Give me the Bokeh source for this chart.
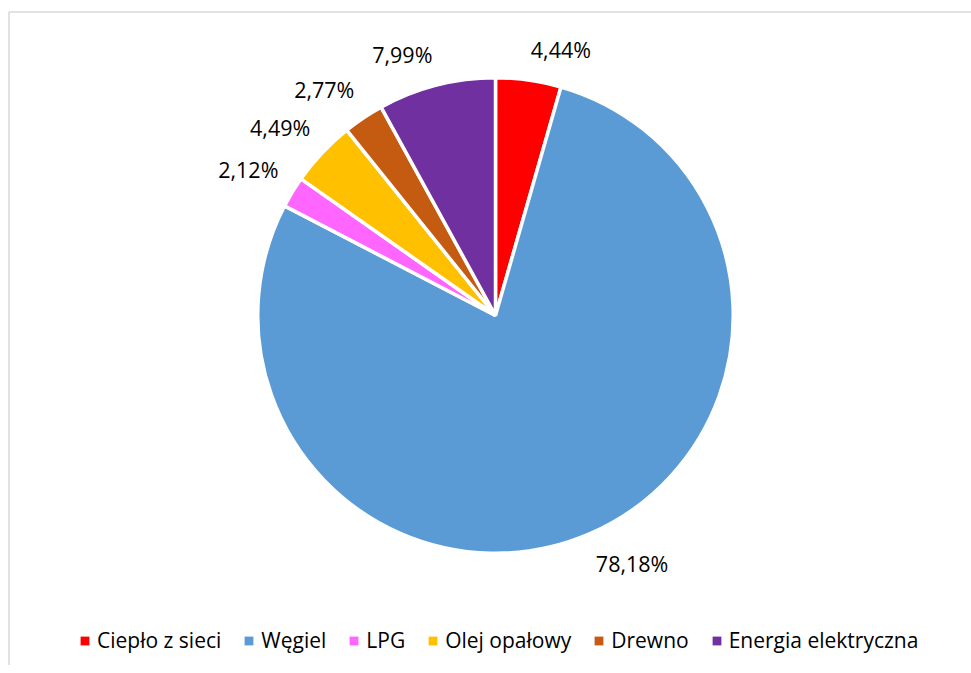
import math
from bokeh.plotting import figure
from bokeh.models import ColumnDataSource, Range1d, Legend, LegendItem
from bokeh.core.properties import value
from bokeh.embed import file_html
from bokeh.resources import INLINE

# ---- data ----
categories = ["Ciepło z sieci", "Węgiel", "LPG", "Olej opałowy", "Drewno", "Energia elektryczna"]
shares = [4.44, 78.18, 2.12, 4.49, 2.77, 7.99]
colors = ["#FF0000", "#5B9BD5", "#FF66FF", "#FFC000", "#C55A11", "#7030A0"]

# ---- layout ----
W, H = 971, 665
CX, CY = 495, 350
R = 236
FONT = "Open Sans"

p = figure(width=W, height=H, x_range=Range1d(0, W), y_range=Range1d(0, H),
           output_backend="svg", toolbar_location=None, min_border=0,
           x_axis_type=None, y_axis_type=None)
p.outline_line_color = None
p.background_fill_color = "white"

# chart-area border (top and left visible)
BX, BY = 8.5, H - 11.5
p.segment(x0=[BX, BX], y0=[0, BY], x1=[BX, W], y1=[BY, BY],
          line_color="#d9d9d9", line_width=1.5)

total = sum(shares)
starts, ends, mids = [], [], []
cum = 0.0
for v in shares:
    a0 = math.pi / 2 - 2 * math.pi * (cum + v) / total
    a1 = math.pi / 2 - 2 * math.pi * cum / total
    starts.append(a0)
    ends.append(a1)
    mids.append((a0 + a1) / 2)
    cum += v

src = ColumnDataSource(dict(start=starts, end=ends, color=colors, cat=categories))
p.wedge(x=CX, y=CY, radius=R + 1.75, start_angle="start", end_angle="end",
        fill_color="color", line_color="white", line_width=3.5, source=src)

# data labels, outside end: nearest label corner on the mid-angle ray
D = R + 18
lab_src = dict(x=[], y=[], text=[], align=[], base=[])
for v, m in zip(shares, mids):
    ux, uy = math.cos(m), math.sin(m)
    lab_src["x"].append(CX + D * ux)
    lab_src["y"].append(CY + D * uy)
    lab_src["text"].append(f"{v:.2f}".replace(".", ",") + "%")
    lab_src["align"].append("left" if ux >= 0 else "right")
    lab_src["base"].append("bottom" if uy >= 0 else "top")
for al in ("left", "right"):
    for bl in ("bottom", "top"):
        idx = [i for i in range(len(shares))
               if lab_src["align"][i] == al and lab_src["base"][i] == bl]
        if not idx:
            continue
        p.text(x=[lab_src["x"][i] for i in idx], y=[lab_src["y"][i] for i in idx],
               text=[lab_src["text"][i] for i in idx],
               text_align=al, text_baseline=bl,
               text_font=value(FONT), text_font_size="21.5px", text_color="#000000")

# legend
nan = float("nan")
items = []
for c, lab in zip(colors, categories):
    r = p.quad(left=[nan], right=[nan], top=[nan], bottom=[nan], fill_color=c, line_color=None)
    items.append(LegendItem(label=lab, renderers=[r]))
legend = Legend(items=items, orientation="horizontal", location=(79, 11),
                glyph_width=11, glyph_height=11, label_standoff=7, spacing=22,
                padding=0, margin=0, border_line_color=None, background_fill_alpha=0,
                label_text_font=FONT, label_text_font_size="21px",
                label_text_color="#000000", label_height=26)
p.add_layout(legend)

open("out.html", "w").write(file_html(p, INLINE))
